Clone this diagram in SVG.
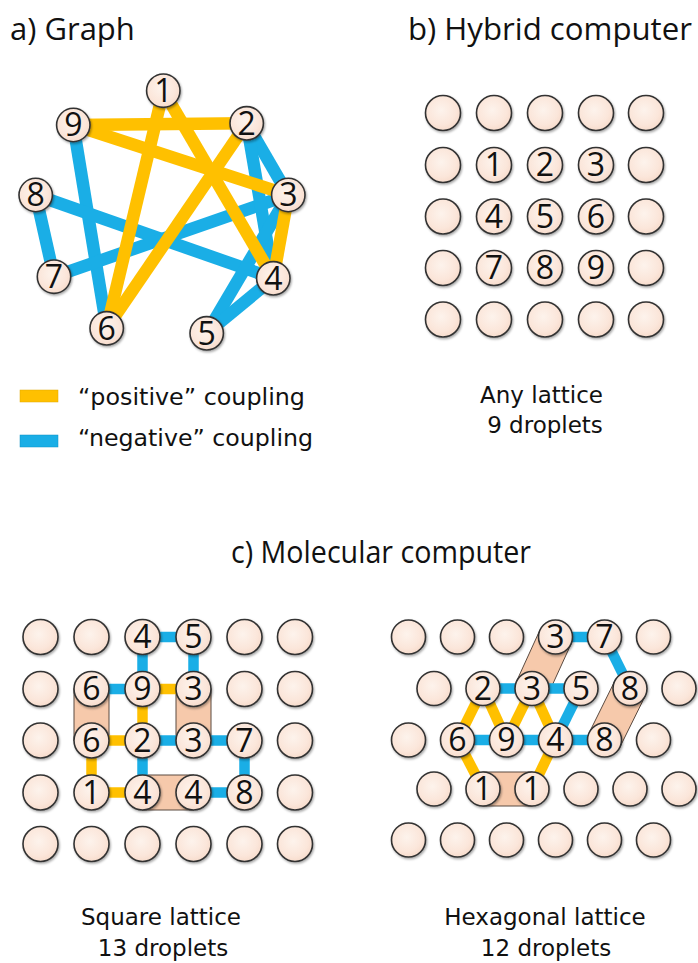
<svg xmlns="http://www.w3.org/2000/svg" width="698" height="963" viewBox="0 0 698 963">
  <style>
    .title { font-family: "Open Sans", "Liberation Sans", sans-serif; font-size: 31px; fill: #111; }
    .caption { font-family: "DejaVu Sans", "Liberation Sans", sans-serif; font-size: 23px; fill: #111; }
    .num { font-family: "Open Sans", "Liberation Sans", sans-serif; font-size: 32px; fill: #111; text-anchor: middle; }
    .drop { fill: url(#dropFill); stroke: #333; stroke-width: 1.6; filter: url(#shadow); }
    .pos { stroke: #FFC000; fill: none; stroke-linecap: butt; }
    .neg { stroke: #1AAEE6; fill: none; stroke-linecap: butt; }
    .g-edge { stroke-width: 12.5; }
    .l-edge { stroke-width: 10.5; }
    .bond { fill: #F6C9AB; stroke: #5a4a40; stroke-width: 1; }
  </style>
  <defs>
    <radialGradient id="dropFill" cx="0.45" cy="0.42" r="0.6">
      <stop offset="0" stop-color="#FDF3EC"/>
      <stop offset="0.7" stop-color="#FBE6DA"/>
      <stop offset="1" stop-color="#F7DBCB"/>
    </radialGradient>
    <filter id="shadow" x="-30%" y="-30%" width="160%" height="160%">
      <feDropShadow dx="1" dy="1.5" stdDeviation="1" flood-color="#000" flood-opacity="0.35"/>
    </filter>
  </defs>

  <rect width="698" height="963" fill="#fff"/>

  <!-- panel titles -->
  <text class="title" x="10" y="40">a) Graph</text>
  <text class="title" x="408" y="40" textLength="284" lengthAdjust="spacingAndGlyphs">b) Hybrid computer</text>
  <text class="title" x="231" y="563" textLength="300" lengthAdjust="spacingAndGlyphs">c) Molecular computer</text>

  <!-- ===== a) coupling graph ===== -->
  <g id="graph-connectors">
    <line class="neg g-edge" x1="73.3" y1="125" x2="106.7" y2="328.3"/>
    <line class="neg g-edge" x1="35.7" y1="195" x2="54" y2="276.7"/>
    <line class="neg g-edge" x1="35.7" y1="195" x2="273.3" y2="278.3"/>
    <line class="neg g-edge" x1="54" y1="276.7" x2="288.3" y2="195"/>
    <line class="neg g-edge" x1="246.7" y1="123.3" x2="288.3" y2="195"/>
    <line class="neg g-edge" x1="246.7" y1="123.3" x2="273.3" y2="278.3"/>
    <line class="neg g-edge" x1="288.3" y1="195" x2="206.7" y2="333.3"/>
    <line class="neg g-edge" x1="273.3" y1="278.3" x2="206.7" y2="333.3"/>
    <line class="pos g-edge" x1="73.3" y1="125" x2="246.7" y2="123.3"/>
    <line class="pos g-edge" x1="73.3" y1="125" x2="288.3" y2="195"/>
    <line class="pos g-edge" x1="163.3" y1="90.7" x2="106.7" y2="328.3"/>
    <line class="pos g-edge" x1="163.3" y1="90.7" x2="273.3" y2="278.3"/>
    <line class="pos g-edge" x1="246.7" y1="123.3" x2="106.7" y2="328.3"/>
    <line class="pos g-edge" x1="288.3" y1="195" x2="273.3" y2="278.3"/>
  </g>
  <g id="graph-node-1"><circle class="drop" cx="163.3" cy="90.7" r="16.7"/><text class="num" x="163.3" y="102">1</text></g>
  <g id="graph-node-2"><circle class="drop" cx="246.7" cy="123.3" r="16.7"/><text class="num" x="246.7" y="134.7">2</text></g>
  <g id="graph-node-3"><circle class="drop" cx="288.3" cy="195" r="16.7"/><text class="num" x="288.3" y="206.4">3</text></g>
  <g id="graph-node-4"><circle class="drop" cx="273.3" cy="278.3" r="16.7"/><text class="num" x="273.3" y="289.7">4</text></g>
  <g id="graph-node-5"><circle class="drop" cx="206.7" cy="333.3" r="16.7"/><text class="num" x="206.7" y="344.7">5</text></g>
  <g id="graph-node-6"><circle class="drop" cx="106.7" cy="328.3" r="16.7"/><text class="num" x="106.7" y="339.7">6</text></g>
  <g id="graph-node-7"><circle class="drop" cx="54" cy="276.7" r="16.7"/><text class="num" x="54" y="288.1">7</text></g>
  <g id="graph-node-8"><circle class="drop" cx="35.7" cy="195" r="16.7"/><text class="num" x="35.7" y="206.4">8</text></g>
  <g id="graph-node-9"><circle class="drop" cx="73.3" cy="125" r="16.7"/><text class="num" x="73.3" y="136.4">9</text></g>

  <!-- legend -->
  <g id="legend">
    <rect x="20" y="390" width="38" height="12" fill="#FFC000" stroke="#E0A800" stroke-width="0.5"/>
    <rect x="20" y="435" width="38" height="12" fill="#1AAEE6" stroke="#0E90C4" stroke-width="0.5"/>
    <text class="caption" x="78" y="405" textLength="227" lengthAdjust="spacingAndGlyphs">“positive” coupling</text>
    <text class="caption" x="78" y="446" textLength="235" lengthAdjust="spacingAndGlyphs">“negative” coupling</text>
  </g>

  <!-- ===== b) hybrid computer: 5x5 droplets ===== -->
  <g id="hybrid-lattice">
    <circle class="drop" cx="443" cy="113" r="17.5"/>
    <circle class="drop" cx="494" cy="113" r="17.5"/>
    <circle class="drop" cx="545" cy="113" r="17.5"/>
    <circle class="drop" cx="596" cy="113" r="17.5"/>
    <circle class="drop" cx="646" cy="113" r="17.5"/>
    <circle class="drop" cx="443" cy="165" r="17.5"/>
    <circle class="drop" cx="646" cy="165" r="17.5"/>
    <circle class="drop" cx="443" cy="216.5" r="17.5"/>
    <circle class="drop" cx="646" cy="216.5" r="17.5"/>
    <circle class="drop" cx="443" cy="268" r="17.5"/>
    <circle class="drop" cx="646" cy="268" r="17.5"/>
    <circle class="drop" cx="443" cy="319.5" r="17.5"/>
    <circle class="drop" cx="494" cy="319.5" r="17.5"/>
    <circle class="drop" cx="545" cy="319.5" r="17.5"/>
    <circle class="drop" cx="596" cy="319.5" r="17.5"/>
    <circle class="drop" cx="646" cy="319.5" r="17.5"/>
  </g>
  <g id="hybrid-node-1"><circle class="drop" cx="494" cy="165" r="17.5"/><text class="num" x="494" y="176.4">1</text></g>
  <g id="hybrid-node-2"><circle class="drop" cx="545" cy="165" r="17.5"/><text class="num" x="545" y="176.4">2</text></g>
  <g id="hybrid-node-3"><circle class="drop" cx="596" cy="165" r="17.5"/><text class="num" x="596" y="176.4">3</text></g>
  <g id="hybrid-node-4"><circle class="drop" cx="494" cy="216.5" r="17.5"/><text class="num" x="494" y="227.9">4</text></g>
  <g id="hybrid-node-5"><circle class="drop" cx="545" cy="216.5" r="17.5"/><text class="num" x="545" y="227.9">5</text></g>
  <g id="hybrid-node-6"><circle class="drop" cx="596" cy="216.5" r="17.5"/><text class="num" x="596" y="227.9">6</text></g>
  <g id="hybrid-node-7"><circle class="drop" cx="494" cy="268" r="17.5"/><text class="num" x="494" y="279.4">7</text></g>
  <g id="hybrid-node-8"><circle class="drop" cx="545" cy="268" r="17.5"/><text class="num" x="545" y="279.4">8</text></g>
  <g id="hybrid-node-9"><circle class="drop" cx="596" cy="268" r="17.5"/><text class="num" x="596" y="279.4">9</text></g>
  <text class="caption" x="541.5" y="403" text-anchor="middle">Any lattice</text>
  <text class="caption" x="545" y="433" text-anchor="middle">9 droplets</text>

  <!-- ===== c) molecular computer, square lattice ===== -->
  <g id="square-connectors">
    <rect class="bond" x="74" y="689" width="35" height="51.5"/>
    <rect class="bond" x="176" y="689" width="35" height="51.5"/>
    <rect class="bond" x="142.5" y="775" width="51" height="35"/>
    <line class="neg l-edge" x1="142.5" y1="637" x2="193.5" y2="637"/>
    <line class="neg l-edge" x1="142.5" y1="637" x2="142.5" y2="689"/>
    <line class="neg l-edge" x1="193.5" y1="637" x2="193.5" y2="689"/>
    <line class="neg l-edge" x1="91.5" y1="689" x2="142.5" y2="689"/>
    <line class="neg l-edge" x1="142.5" y1="740.5" x2="193.5" y2="740.5"/>
    <line class="neg l-edge" x1="193.5" y1="740.5" x2="244.5" y2="740.5"/>
    <line class="neg l-edge" x1="142.5" y1="740.5" x2="142.5" y2="792.5"/>
    <line class="neg l-edge" x1="244.5" y1="740.5" x2="244.5" y2="792.5"/>
    <line class="neg l-edge" x1="193.5" y1="792.5" x2="244.5" y2="792.5"/>
    <line class="pos l-edge" x1="142.5" y1="689" x2="193.5" y2="689"/>
    <line class="pos l-edge" x1="142.5" y1="689" x2="142.5" y2="740.5"/>
    <line class="pos l-edge" x1="91.5" y1="740.5" x2="142.5" y2="740.5"/>
    <line class="pos l-edge" x1="91.5" y1="740.5" x2="91.5" y2="792.5"/>
    <line class="pos l-edge" x1="91.5" y1="792.5" x2="142.5" y2="792.5"/>
  </g>
  <g id="square-lattice">
    <circle class="drop" cx="40.5" cy="637" r="17.5"/>
    <circle class="drop" cx="91.5" cy="637" r="17.5"/>
    <circle class="drop" cx="244.5" cy="637" r="17.5"/>
    <circle class="drop" cx="295" cy="637" r="17.5"/>
    <circle class="drop" cx="40.5" cy="689" r="17.5"/>
    <circle class="drop" cx="244.5" cy="689" r="17.5"/>
    <circle class="drop" cx="295" cy="689" r="17.5"/>
    <circle class="drop" cx="40.5" cy="740.5" r="17.5"/>
    <circle class="drop" cx="295" cy="740.5" r="17.5"/>
    <circle class="drop" cx="40.5" cy="792.5" r="17.5"/>
    <circle class="drop" cx="295" cy="792.5" r="17.5"/>
    <circle class="drop" cx="40.5" cy="844" r="17.5"/>
    <circle class="drop" cx="91.5" cy="844" r="17.5"/>
    <circle class="drop" cx="142.5" cy="844" r="17.5"/>
    <circle class="drop" cx="193.5" cy="844" r="17.5"/>
    <circle class="drop" cx="244.5" cy="844" r="17.5"/>
    <circle class="drop" cx="295" cy="844" r="17.5"/>
  </g>
  <g id="sq-4a"><circle class="drop" cx="142.5" cy="637" r="17.5"/><text class="num" x="142.5" y="648.4">4</text></g>
  <g id="sq-5"><circle class="drop" cx="193.5" cy="637" r="17.5"/><text class="num" x="193.5" y="648.4">5</text></g>
  <g id="sq-6a"><circle class="drop" cx="91.5" cy="689" r="17.5"/><text class="num" x="91.5" y="700.4">6</text></g>
  <g id="sq-9"><circle class="drop" cx="142.5" cy="689" r="17.5"/><text class="num" x="142.5" y="700.4">9</text></g>
  <g id="sq-3a"><circle class="drop" cx="193.5" cy="689" r="17.5"/><text class="num" x="193.5" y="700.4">3</text></g>
  <g id="sq-6b"><circle class="drop" cx="91.5" cy="740.5" r="17.5"/><text class="num" x="91.5" y="751.9">6</text></g>
  <g id="sq-2"><circle class="drop" cx="142.5" cy="740.5" r="17.5"/><text class="num" x="142.5" y="751.9">2</text></g>
  <g id="sq-3b"><circle class="drop" cx="193.5" cy="740.5" r="17.5"/><text class="num" x="193.5" y="751.9">3</text></g>
  <g id="sq-7"><circle class="drop" cx="244.5" cy="740.5" r="17.5"/><text class="num" x="244.5" y="751.9">7</text></g>
  <g id="sq-1"><circle class="drop" cx="91.5" cy="792.5" r="17.5"/><text class="num" x="91.5" y="803.9">1</text></g>
  <g id="sq-4b"><circle class="drop" cx="142.5" cy="792.5" r="17.5"/><text class="num" x="142.5" y="803.9">4</text></g>
  <g id="sq-4c"><circle class="drop" cx="193.5" cy="792.5" r="17.5"/><text class="num" x="193.5" y="803.9">4</text></g>
  <g id="sq-8"><circle class="drop" cx="244.5" cy="792.5" r="17.5"/><text class="num" x="244.5" y="803.9">8</text></g>
  <text class="caption" x="161" y="925" text-anchor="middle">Square lattice</text>
  <text class="caption" x="163" y="956" text-anchor="middle">13 droplets</text>

  <!-- ===== c) molecular computer, hexagonal lattice ===== -->
  <g id="hex-connectors">
    <polygon class="bond" points="571,644.1 540,629.9 516.5,681.4 547.5,695.6"/>
    <polygon class="bond" points="645.2,696 614.8,681 589.3,732.5 619.7,747.5"/>
    <rect class="bond" x="483" y="772" width="49" height="34"/>
    <line class="neg l-edge" x1="555.5" y1="637" x2="604.5" y2="637"/>
    <line class="neg l-edge" x1="604.5" y1="637" x2="630" y2="688.5"/>
    <line class="neg l-edge" x1="483" y1="688.5" x2="532" y2="688.5"/>
    <line class="neg l-edge" x1="532" y1="688.5" x2="581" y2="688.5"/>
    <line class="neg l-edge" x1="581" y1="688.5" x2="555.5" y2="740"/>
    <line class="neg l-edge" x1="457.5" y1="740" x2="506.5" y2="740"/>
    <line class="neg l-edge" x1="506.5" y1="740" x2="555.5" y2="740"/>
    <line class="neg l-edge" x1="555.5" y1="740" x2="604.5" y2="740"/>
    <line class="pos l-edge" x1="483" y1="688.5" x2="457.5" y2="740"/>
    <line class="pos l-edge" x1="483" y1="688.5" x2="506.5" y2="740"/>
    <line class="pos l-edge" x1="532" y1="688.5" x2="506.5" y2="740"/>
    <line class="pos l-edge" x1="532" y1="688.5" x2="555.5" y2="740"/>
    <line class="pos l-edge" x1="457.5" y1="740" x2="483" y2="789"/>
    <line class="pos l-edge" x1="555.5" y1="740" x2="532" y2="789"/>
  </g>
  <g id="hex-lattice">
    <circle class="drop" cx="408.5" cy="637" r="17"/>
    <circle class="drop" cx="457.5" cy="637" r="17"/>
    <circle class="drop" cx="506.5" cy="637" r="17"/>
    <circle class="drop" cx="653.5" cy="637" r="17"/>
    <circle class="drop" cx="434" cy="688.5" r="17"/>
    <circle class="drop" cx="679" cy="688.5" r="17"/>
    <circle class="drop" cx="408.5" cy="740" r="17"/>
    <circle class="drop" cx="653.5" cy="740" r="17"/>
    <circle class="drop" cx="434" cy="789" r="17"/>
    <circle class="drop" cx="581" cy="789" r="17"/>
    <circle class="drop" cx="630" cy="789" r="17"/>
    <circle class="drop" cx="679" cy="789" r="17"/>
    <circle class="drop" cx="408.5" cy="840" r="17"/>
    <circle class="drop" cx="457.5" cy="840" r="17"/>
    <circle class="drop" cx="506.5" cy="840" r="17"/>
    <circle class="drop" cx="555.5" cy="840" r="17"/>
    <circle class="drop" cx="604.5" cy="840" r="17"/>
    <circle class="drop" cx="653.5" cy="840" r="17"/>
  </g>
  <g id="hex-3a"><circle class="drop" cx="555.5" cy="637" r="17"/><text class="num" x="555.5" y="648.4">3</text></g>
  <g id="hex-7"><circle class="drop" cx="604.5" cy="637" r="17"/><text class="num" x="604.5" y="648.4">7</text></g>
  <g id="hex-2"><circle class="drop" cx="483" cy="688.5" r="17"/><text class="num" x="483" y="699.9">2</text></g>
  <g id="hex-3b"><circle class="drop" cx="532" cy="688.5" r="17"/><text class="num" x="532" y="699.9">3</text></g>
  <g id="hex-5"><circle class="drop" cx="581" cy="688.5" r="17"/><text class="num" x="581" y="699.9">5</text></g>
  <g id="hex-8a"><circle class="drop" cx="630" cy="688.5" r="17"/><text class="num" x="630" y="699.9">8</text></g>
  <g id="hex-6"><circle class="drop" cx="457.5" cy="740" r="17"/><text class="num" x="457.5" y="751.4">6</text></g>
  <g id="hex-9"><circle class="drop" cx="506.5" cy="740" r="17"/><text class="num" x="506.5" y="751.4">9</text></g>
  <g id="hex-4"><circle class="drop" cx="555.5" cy="740" r="17"/><text class="num" x="555.5" y="751.4">4</text></g>
  <g id="hex-8b"><circle class="drop" cx="604.5" cy="740" r="17"/><text class="num" x="604.5" y="751.4">8</text></g>
  <g id="hex-1a"><circle class="drop" cx="483" cy="789" r="17"/><text class="num" x="483" y="800.4">1</text></g>
  <g id="hex-1b"><circle class="drop" cx="532" cy="789" r="17"/><text class="num" x="532" y="800.4">1</text></g>
  <text class="caption" x="545" y="925" text-anchor="middle">Hexagonal lattice</text>
  <text class="caption" x="546" y="956" text-anchor="middle">12 droplets</text>
</svg>
